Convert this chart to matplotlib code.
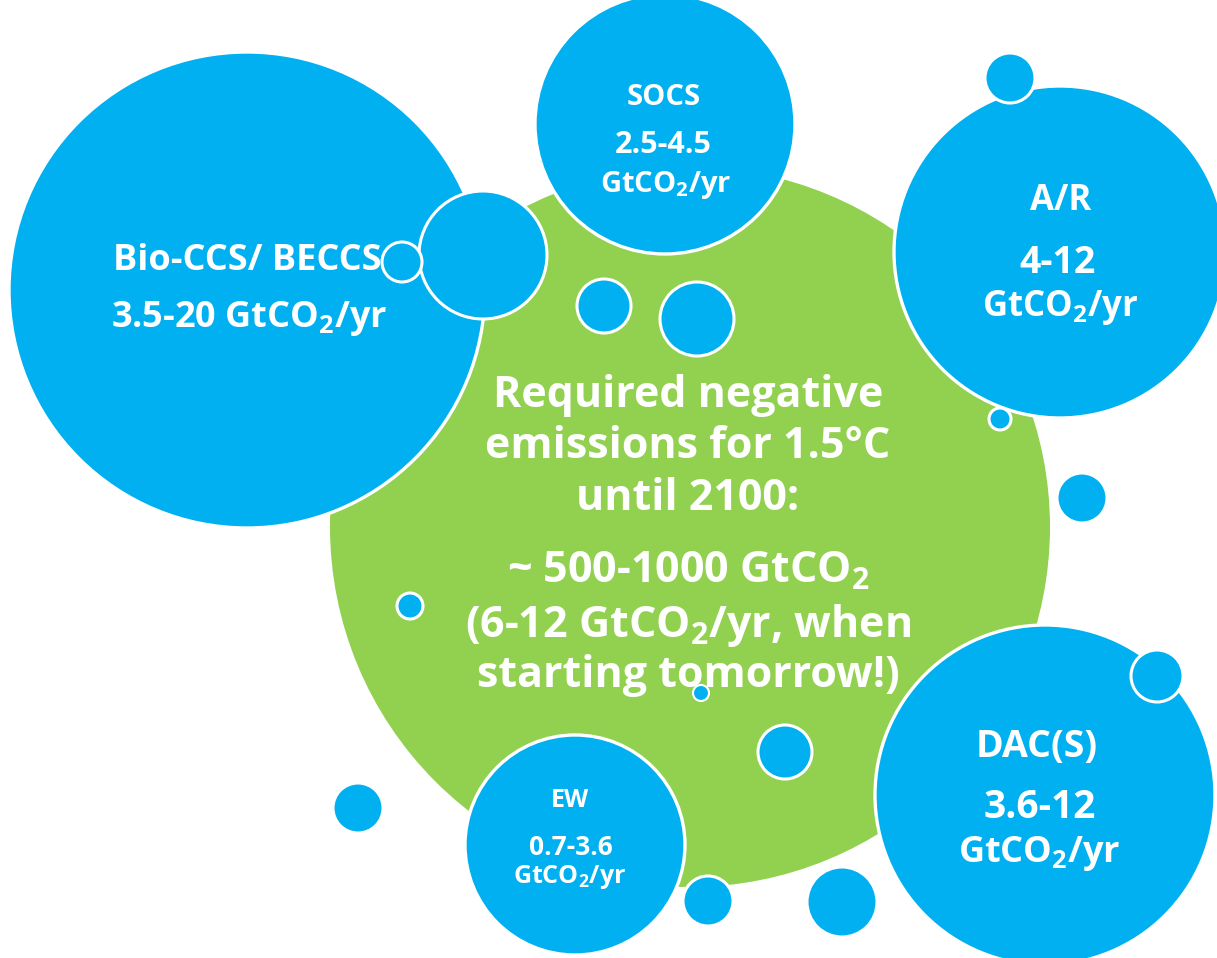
import matplotlib
matplotlib.use("Agg")
import matplotlib.pyplot as plt
from matplotlib.patches import Circle

plt.rcParams["font.family"] = ["Open Sans", "DejaVu Sans"]
plt.rcParams["mathtext.fontset"] = "custom"
plt.rcParams["mathtext.rm"] = "Open Sans:bold"
plt.rcParams["mathtext.it"] = "Open Sans:bold"
plt.rcParams["mathtext.bf"] = "Open Sans:bold"

BLUE = "#00B0F0"
GREEN = "#92D050"

# negative emission technologies and their potentials
techs = ["Bio-CCS/ BECCS", "SOCS", "A/R", "DAC(S)", "EW"]
potentials = ["3.5-20", "2.5-4.5", "4-12", "3.6-12", "0.7-3.6"]
unit = r"GtCO$_2$/yr"

headline = ["Required negative", "emissions for 1.5°C", "until 2100:"]
budget = [r"~ 500-1000 GtCO$_2$", r"(6-12 GtCO$_2$/yr, when", "starting tomorrow!)"]

# (x, y, radius) in pixel units of the canvas
green_circle = (690, 527, 360)
tech_circles = [(247, 290, 238), (665, 124, 130), (1060, 252, 166),
                (1045, 795, 170), (575, 845, 110)]
bubbles = [(483, 255, 64), (402, 262, 20), (1010, 78, 25), (604, 306, 27),
           (697, 319, 37), (1000, 419, 11), (1082, 498, 25), (410, 606, 13),
           (358, 808, 25), (1157, 676, 26), (785, 752, 27), (708, 901, 25),
           (842, 902, 35)]
dot = (701, 693, 8)

W, H = 1217, 958
fig = plt.figure(figsize=(W / 100, H / 100), dpi=100)
ax = fig.add_axes([0, 0, 1, 1])
ax.set_xlim(0, W)
ax.set_ylim(H, 0)
ax.set_aspect("equal")
ax.axis("off")

gx, gy, gr = green_circle
ax.add_patch(Circle((gx, gy), gr, facecolor=GREEN, edgecolor="none", zorder=1))
for x, y, r in tech_circles:
    ax.add_patch(Circle((x, y), r, facecolor=BLUE, edgecolor="white",
                        linewidth=2.4, zorder=2))

txt = dict(color="white", fontweight="bold", ha="center", va="baseline", zorder=3)

# Bio-CCS
ax.text(247, 270, techs[0], fontsize=26, **txt)
ax.text(249, 327, potentials[0] + " " + unit, fontsize=26, **txt)
# SOCS
ax.text(664, 105, techs[1], fontsize=21, **txt)
ax.text(663, 153, potentials[1], fontsize=22, **txt)
ax.text(666, 192, unit, fontsize=21, **txt)
# A/R
ax.text(1061, 210, techs[2], fontsize=25, **txt)
ax.text(1058, 273, potentials[2], fontsize=27, **txt)
ax.text(1060, 316, unit, fontsize=25, **txt)
# DAC(S)
ax.text(1037, 757, techs[3], fontsize=27, **txt)
ax.text(1040, 818, potentials[3], fontsize=28, **txt)
ax.text(1039, 862, unit, fontsize=26, **txt)
# EW
ax.text(570, 807, techs[4], fontsize=18, **txt)
ax.text(571, 855, potentials[4], fontsize=19, **txt)
ax.text(570, 883, unit, fontsize=18, **txt)

# central message
for line, yb in zip(headline, [407, 458, 510]):
    ax.text(688, yb, line, fontsize=31, **txt)
for line, yb in zip(budget, [583, 637, 687]):
    ax.text(688, yb, line, fontsize=31, **txt)

for x, y, r in bubbles:
    ax.add_patch(Circle((x, y), r, facecolor=BLUE, edgecolor="white",
                        linewidth=2.2, zorder=4))
ax.add_patch(Circle(dot[:2], dot[2], facecolor=BLUE, edgecolor="white",
                    linewidth=1.5, zorder=5))

fig.savefig("out.png", dpi=100)
